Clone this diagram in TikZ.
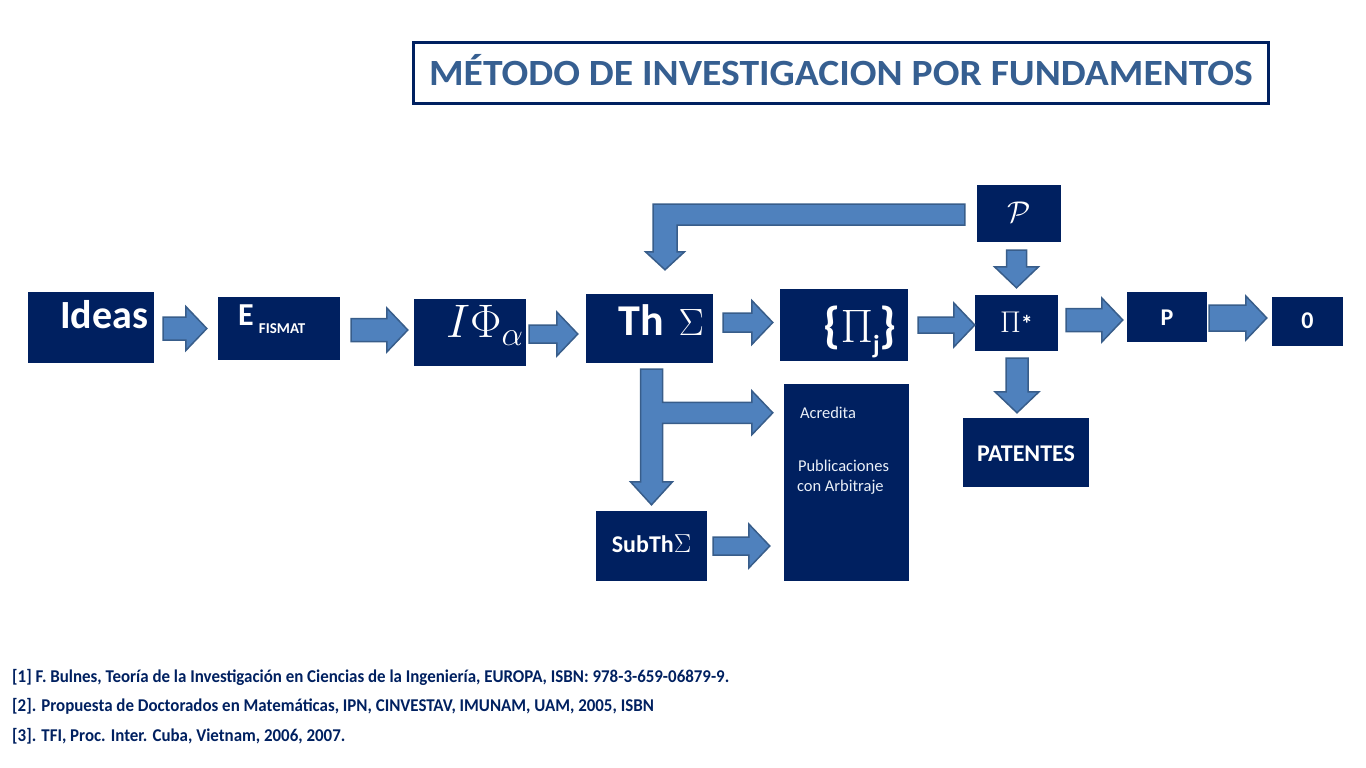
\RequirePackage{fix-cm}
\documentclass[tikz,border=0pt]{standalone}
\usepackage{fontspec}
\setmainfont{Carlito}
\usetikzlibrary{calc}

\definecolor{boxnavy}{RGB}{0,32,96}
\definecolor{arrowfill}{RGB}{79,129,189}
\definecolor{arrowline}{RGB}{56,93,138}
\definecolor{titleblue}{RGB}{54,95,145}
\definecolor{reftext}{RGB}{0,32,96}
\definecolor{pubtext}{RGB}{235,240,248}

\tikzset{
    box/.style = {rectangle, fill = boxnavy, text = white, inner sep = 0pt, font = \bfseries},
    blockarrow/.style = {fill = arrowfill, draw = arrowline, line width = 1.5pt},
    pubtxt/.style = {anchor = base west, inner sep = 0pt, text = pubtext, font = \fontsize{16.5}{19}\selectfont},
    reftxt/.style = {anchor = base west, inner sep = 0pt, text = reftext,
        font = \bfseries\fontsize{18}{20}\selectfont\addfontfeatures{FakeStretch=0.94}}
}

% block arrows: [shaft half width]{start}{tip}
\newcommand{\blockright}[3][10.5]{%
    \draw [blockarrow] let \p1 = #2, \p2 = #3 in
        (\x1, \y2+#1pt) -- (\x2-21pt, \y2+#1pt) -- (\x2-21pt, \y2+22pt) -- (\x2, \y2)
        -- (\x2-21pt, \y2-22pt) -- (\x2-21pt, \y2-#1pt) -- (\x1, \y2-#1pt) -- cycle;}
\newcommand{\blockdown}[3][10.5]{%
    \draw [blockarrow] let \p1 = #2, \p2 = #3 in
        (\x2-#1pt, \y1) -- (\x2+#1pt, \y1) -- (\x2+#1pt, \y2+21pt) -- (\x2+22pt, \y2+21pt) -- (\x2, \y2)
        -- (\x2-22pt, \y2+21pt) -- (\x2-#1pt, \y2+21pt) -- cycle;}
\newcommand{\blockbent}[2]{%
    \draw [blockarrow] let \p1 = #1, \p2 = #2 in
        (\x1, \y1+10.5pt) -- (\x2-12pt, \y1+10.5pt) -- (\x2-12pt, \y2+18pt) -- (\x2-19.5pt, \y2+18pt)
        -- (\x2, \y2) -- (\x2+19.5pt, \y2+18pt) -- (\x2+12pt, \y2+18pt) -- (\x2+12pt, \y1-10.5pt)
        -- (\x1, \y1-10.5pt) -- cycle;}
\newcommand{\blockfork}[3]{%
    \draw [blockarrow] let \p1 = #1, \p2 = #2, \p3 = #3 in
        (\x2-11pt, \y1) -- (\x2+11pt, \y1) -- (\x2+11pt, \y3+10.5pt) -- (\x3-21pt, \y3+10.5pt)
        -- (\x3-21pt, \y3+22pt) -- (\x3, \y3) -- (\x3-21pt, \y3-22pt) -- (\x3-21pt, \y3-10.5pt)
        -- (\x2+11pt, \y3-10.5pt) -- (\x2+11pt, \y2+23pt) -- (\x2+21pt, \y2+23pt) -- (\x2, \y2)
        -- (\x2-21pt, \y2+23pt) -- (\x2-11pt, \y2+23pt) -- cycle;}

\begin{document}
\begin{tikzpicture}[x = 1pt, y = -1pt]
    \useasboundingbox (0,0) rectangle (1366,768);

    \node (title) [draw = boxnavy, line width = 3pt, minimum width = 855pt, minimum height = 60pt, inner sep = 0pt,
        text height = 24pt, text depth = 0pt, text = titleblue,
        font = \bfseries\fontsize{37}{40}\selectfont\addfontfeatures{FakeStretch=1.07}]
        at (841,73) {MÉTODO DE INVESTIGACION POR FUNDAMENTOS};

    % main row
    \node (ideas) [box, minimum width = 126pt, minimum height = 71pt, text width = 114pt, align = right,
        text height = 1pt, text depth = 0pt, font = \bfseries\fontsize{40}{44}\selectfont] at (91,327.5) {Ideas};
    \node (efis) [box, minimum width = 122pt, minimum height = 63pt, text width = 82pt, align = left,
        text height = 0pt, text depth = 7pt, font = \bfseries\fontsize{32}{34}\selectfont] at (279,328.5)
        {E\,\raisebox{-8pt}{\fontsize{15}{16}\selectfont FISMAT}};
    \node (ifa) [box, minimum width = 112pt, minimum height = 67pt, text width = 106pt, align = right,
        text height = 9pt, text depth = 0pt, font = \fontsize{47}{50}\selectfont] at (470,332.5)
        {$I\Phi$\raisebox{-8pt}{\fontsize{34}{36}\selectfont$\alpha$}};
    \node (th) [box, minimum width = 127pt, minimum height = 69pt, text width = 109pt, align = right,
        text height = 13pt, text depth = 0pt, font = \bfseries\fontsize{44}{48}\selectfont] at (649.5,328.5)
        {Th {\fontsize{38}{40}\selectfont$\Sigma$}};
    \node (pij) [box, minimum width = 128pt, minimum height = 72pt, text width = 106pt, align = right,
        text height = 34pt, text depth = 0pt, font = \bfseries\fontsize{50}{54}\selectfont] at (844,325)
        {\{{\fontsize{47}{50}\selectfont$\Pi$}\raisebox{-11pt}{\fontsize{26}{28}\selectfont j}\}};
    \node (pist) [box, minimum width = 83pt, minimum height = 56pt, text height = 18pt, text depth = 0pt,
        font = \bfseries\fontsize{24}{26}\selectfont] at (1016.5,323) {{\fontsize{30}{32}\selectfont$\Pi$}*};
    \node (pbox) [box, minimum width = 80pt, minimum height = 50pt, text height = 16pt, text depth = 0pt,
        font = \bfseries\fontsize{24}{26}\selectfont] at (1167,317) {P};
    \node (zero) [box, minimum width = 71pt, minimum height = 49pt, text height = 13pt, text depth = 0pt,
        font = \bfseries\fontsize{24}{26}\selectfont] at (1307.5,321.5) {0};

    % upper and lower boxes
    \node (calp) [box, minimum width = 84pt, minimum height = 57pt, text height = 17pt, text depth = 0pt,
        font = \fontsize{30}{32}\selectfont] at (1019,213.5) {$\mathcal{P}$};
    \node (pat) [box, minimum width = 126pt, minimum height = 69pt, text height = 17pt, text depth = 0pt,
        font = \bfseries\fontsize{24}{26}\selectfont] at (1026,452.5) {PATENTES};
    \node (subth) [box, minimum width = 111pt, minimum height = 70pt, text height = 12pt, text depth = 0pt,
        font = \bfseries\fontsize{24}{26}\selectfont] at (651.5,546) {SubTh{\fontsize{26}{28}\selectfont$\Sigma$}};
    \node (pub) [box, minimum width = 125pt, minimum height = 197pt] at (846.5,482.5) {};

    \node (acr) [pubtxt] at ($(pub.north west)+(16,35)$) {Acredita};
    \node (publ) [pubtxt] at ($(pub.north west)+(14,88)$) {Publicaciones};
    \node (arb) [pubtxt] at ($(pub.north west)+(13,108)$) {con Arbitraje};

    % arrows
    \blockright[11.5]{([xshift=9pt]ideas.east)}{([xshift=-11pt]efis.west)}
    \blockright[11.5]{([xshift=11pt]efis.east)}{([xshift=-6pt, yshift=2.5pt]ifa.west)}
    \blockright[9]{([xshift=3pt]ifa.east)}{([xshift=-8pt, yshift=-5.5pt]th.west)}
    \blockright[9.5]{([xshift=10pt]th.east)}{([xshift=-7pt, yshift=2.5pt]pij.west)}
    \blockright[8]{([xshift=10pt]pij.east)}{([yshift=-2pt]pist.west)}
    \blockright[11.5]{([xshift=8pt]pist.east)}{([xshift=-4pt, yshift=-3pt]pbox.west)}
    \blockright[13]{([xshift=2pt]pbox.east)}{([xshift=-5pt, yshift=3.5pt]zero.west)}
    \blockdown[10]{([yshift=-8pt]calp.south)}{([yshift=7pt]pist.north)}
    \blockdown[11]{([yshift=-7pt]pist.south)}{([xshift=-9pt, yshift=5pt]pat.north)}
    \blockright[9]{([xshift=6pt]subth.east)}{([xshift=-14pt, yshift=-63.5pt]pub.west)}
    \blockbent{([xshift=-12pt, yshift=-1pt]calp.west)}{([xshift=15.5pt, yshift=24pt]th.north)}
    \blockfork{([yshift=-6pt]th.south)}{([yshift=6pt]subth.north)}{([xshift=-11pt, yshift=-29pt]pub.north west)}

    % references
    \node (ref1) [reftxt] at (12,682) {[1] F. Bulnes, Teoría de la Investigación en Ciencias de la Ingeniería, EUROPA, ISBN: 978-3-659-06879-9.};
    \node (ref2) [reftxt] at (12,711) {[2]. Propuesta de Doctorados en Matemáticas, IPN, CINVESTAV, IMUNAM, UAM, 2005, ISBN};
    \node (ref3) [reftxt] at (12,741) {[3]. TFI, Proc. Inter. Cuba, Vietnam, 2006, 2007.};
\end{tikzpicture}
\end{document}
